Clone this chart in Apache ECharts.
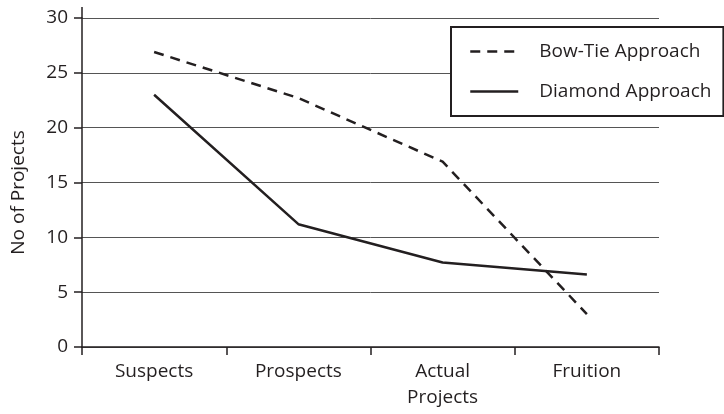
<!DOCTYPE html>
<html>
<head>
<meta charset="utf-8">
<script src="https://cdn.jsdelivr.net/npm/echarts@6/dist/echarts.min.js"></script>
<style>
html,body{margin:0;padding:0;background:#fff;}
#chart{width:724px;height:414px;}
</style>
</head>
<body>
<div id="chart"></div>
<script>
const categories = ['Suspects', 'Prospects', 'Actual\nProjects', 'Fruition'];
const bowTie = [26.9, 22.7, 16.9, 3.0];
const diamond = [23.0, 11.2, 7.7, 6.6];
const yTicks = { min: 0, max: 30, interval: 5 };
const seriesNames = ['Bow-Tie Approach', 'Diamond Approach'];

const ink = '#231f20';
const font = 'Open Sans';

const chart = echarts.init(document.getElementById('chart'), null, { renderer: 'canvas' });
chart.setOption({
  animation: false,
  backgroundColor: '#fff',
  grid: { left: 82, right: 65, top: 18, bottom: 67, containLabel: false },
  legend: {
    orient: 'vertical',
    left: 451,
    top: 27,
    padding: [15, 12, 15, 18],
    itemWidth: 48,
    itemHeight: 18,
    itemGap: 21,
    borderColor: ink,
    borderWidth: 2,
    borderRadius: 0,
    backgroundColor: '#fff',
    z: 10,
    itemStyle: { opacity: 0 },
    lineStyle: { width: 2.5 },
    textStyle: { fontFamily: font, fontSize: 19, color: ink, lineHeight: 18, padding: [0, 0, 0, 16] },
    data: seriesNames
  },
  xAxis: {
    type: 'category',
    data: categories,
    boundaryGap: true,
    axisLine: { lineStyle: { color: ink, width: 1.5 } },
    axisTick: { show: true, length: 8, alignWithLabel: false, lineStyle: { color: ink, width: 1.5 } },
    axisLabel: { fontFamily: font, fontSize: 19, color: ink, margin: 12, lineHeight: 26 },
    splitLine: { show: false }
  },
  yAxis: {
    type: 'value',
    min: yTicks.min,
    max: yTicks.max,
    interval: yTicks.interval,
    name: 'No of Projects',
    nameLocation: 'middle',
    nameRotate: 90,
    nameGap: 54,
    nameTextStyle: { fontFamily: font, fontSize: 19, color: ink, padding: [0, 20, 0, 0] },
    axisLine: { show: true, lineStyle: { color: ink, width: 1.5 } },
    axisTick: { show: true, length: 8, lineStyle: { color: ink, width: 1.5 } },
    axisLabel: { fontFamily: font, fontSize: 19, color: ink, margin: 14 },
    splitLine: { show: true, lineStyle: { color: '#555', width: 1 } }
  },
  graphic: [
    { type: 'line', shape: { x1: 82, y1: 7, x2: 82, y2: 18 }, style: { stroke: ink, lineWidth: 1.5 } }
  ],
  series: [
    {
      name: seriesNames[0],
      type: 'line',
      data: bowTie,
      symbol: 'none',
      lineStyle: { color: ink, width: 2.5, type: [10, 7] },
      itemStyle: { color: ink }
    },
    {
      name: seriesNames[1],
      type: 'line',
      data: diamond,
      symbol: 'none',
      lineStyle: { color: ink, width: 2.5, type: 'solid' },
      itemStyle: { color: ink }
    }
  ]
});
</script>
</body>
</html>
